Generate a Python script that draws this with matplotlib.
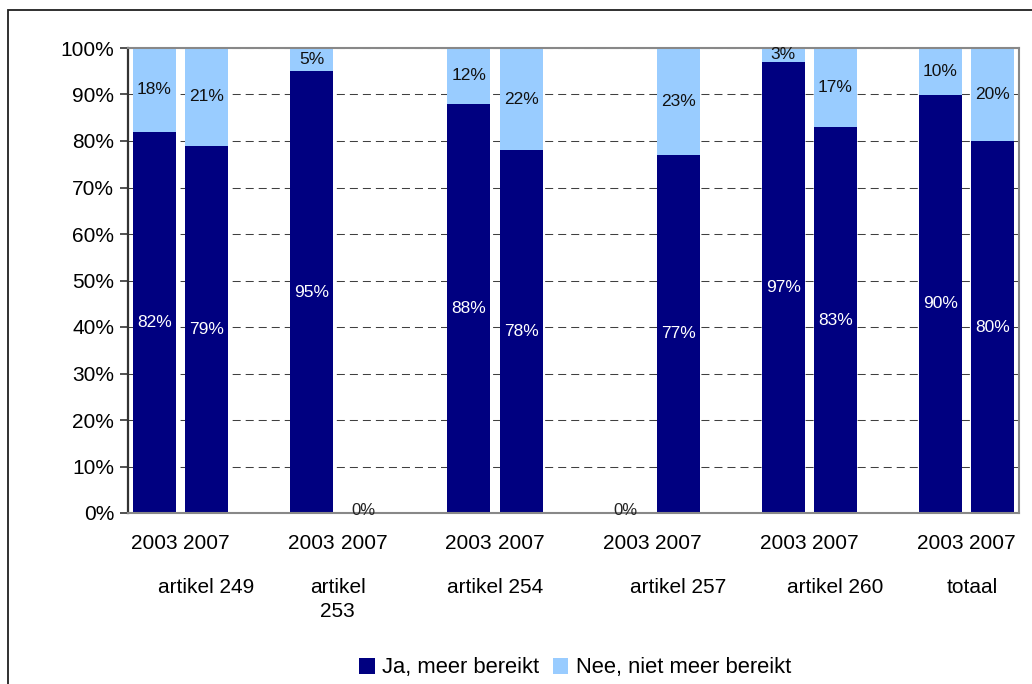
"""Stacked 100% bar chart: bereikt per artikel, 2003 vs 2007."""

import matplotlib.pyplot as plt
from matplotlib.patches import Rectangle, Patch
from matplotlib.ticker import MultipleLocator, FuncFormatter

plt.rcParams["font.family"] = ["Liberation Sans", "DejaVu Sans"]

# data
groups = ["artikel 249", "artikel\n253", "artikel 254", "artikel 257", "artikel 260", "totaal"]
years = ["2003", "2007"]
ja = [82, 79, 95, 0, 88, 78, 0, 77, 97, 83, 90, 80]
nee = [18, 21, 5, 0, 12, 22, 0, 23, 3, 17, 10, 20]
series_names = ["Ja, meer bereikt", "Nee, niet meer bereikt"]

# layout: each bar sits on a category slot, groups separated by an empty slot
slots = [0, 1, 3, 4, 6, 7, 9, 10, 12, 13, 15, 16]
group_label_x = [1.0, 3.5, 6.5, 10.0, 13.0, 15.6]

DARK = "#000080"
LIGHT = "#99CCFF"

fig = plt.figure(figsize=(10.32, 6.84), dpi=100)
W, H = 1032, 684

# outer chart frame (runs off the right and bottom edges)
fig.patches.append(Rectangle((8 / W, -0.1), 1.2, 1 - 10 / H + 0.1,
                             transform=fig.transFigure, fill=False,
                             edgecolor="#202020", linewidth=1.3))

ax = fig.add_axes([128 / W, 1 - 513 / H, (1019 - 128) / W, (513 - 48) / H])

width = 0.82
ax.bar(slots, ja, width=width, color=DARK, zorder=2)
ax.bar(slots, nee, width=width, bottom=ja, color=LIGHT, zorder=2)

for x, a, b in zip(slots, ja, nee):
    if a + b == 0:
        ax.text(x, 0.6, "0%", ha="center", va="center", fontsize=12, color="#222222")
        continue
    ax.text(x, a / 2, f"{a}%", ha="center", va="center", fontsize=12.5, color="white")
    ax.text(x, a + b / 2, f"{b}%", ha="center", va="center", fontsize=12.5, color="#111111")

ax.set_xlim(-0.5, 16.5)
ax.set_ylim(0, 100)
ax.yaxis.set_major_locator(MultipleLocator(10))
ax.yaxis.set_major_formatter(FuncFormatter(lambda v, _: f"{v:.0f}%"))
ax.tick_params(axis="y", labelsize=15, length=6, width=1.2, color="#333333", pad=4)

ax.set_xticks(slots)
ax.set_xticklabels(years * len(groups))
ax.tick_params(axis="x", labelsize=15, length=0, pad=15)

for gx, name in zip(group_label_x, groups):
    ax.text(gx, -0.14, name, transform=ax.get_xaxis_transform(), ha="center",
            va="top", fontsize=15, linespacing=1.35)

ax.grid(axis="y", color="#404040", linewidth=0.75, linestyle=(0, (7.7, 4.8)))
ax.set_axisbelow(True)
for side in ["top", "right", "bottom"]:
    ax.spines[side].set_color("#888888")
    ax.spines[side].set_linewidth(1.5)
ax.spines["left"].set_color("#333333")
ax.spines["left"].set_linewidth(1.6)

handles = [Patch(facecolor=DARK), Patch(facecolor=LIGHT)]
fig.legend(handles, series_names, loc="center", bbox_to_anchor=(575 / W, 1 - 668 / H),
           ncol=2, frameon=False, fontsize=15.8, handlelength=0.7, handleheight=0.7,
           handletextpad=0.35, columnspacing=0.6)

fig.savefig("out.png", dpi=100)
